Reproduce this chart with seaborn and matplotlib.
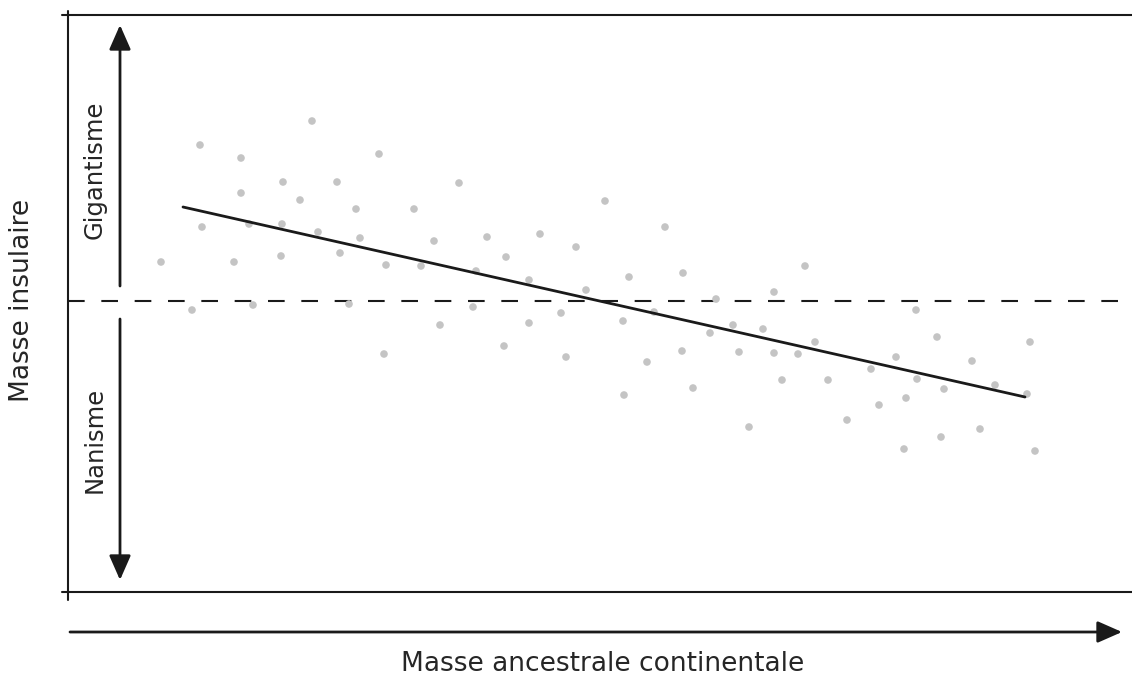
import pandas as pd
import matplotlib.pyplot as plt
import seaborn as sns

# continental ancestral mass (x) vs insular mass (y), arbitrary units
mass_continent = [93, 124, 132, 134, 166, 173, 173, 181, 185, 213,
                  214, 215, 232, 244, 250, 269, 272, 281, 288, 292,
                  311, 316, 318, 346, 353, 366, 372, 391, 405, 408,
                  419, 436, 438, 461, 461, 472, 493, 498, 508, 518,
                  537, 555, 556, 561, 579, 586, 597, 614, 615, 625,
                  642, 648, 665, 671, 681, 695, 706, 706, 714, 730,
                  737, 747, 760, 779, 803, 811, 828, 836, 838, 848,
                  849, 869, 873, 876, 904, 912, 927, 959, 962, 967]
mass_island = [330, 282, 447, 365, 330, 434, 399, 368, 287, 336,
               368, 410, 392, 471, 360, 410, 339, 288, 383, 354,
               438, 238, 327, 383, 326, 351, 267, 409, 285, 321,
               355, 246, 335, 312, 269, 358, 279, 235, 345, 302,
               391, 271, 197, 315, 230, 280, 365, 241, 319, 204,
               259, 293, 267, 240, 165, 263, 300, 239, 212, 238,
               326, 250, 212, 172, 223, 187, 235, 143, 194, 282,
               213, 255, 155, 203, 231, 163, 207, 198, 250, 141]

trend_x = [115, 957]
trend_y = [385, 195]
no_change_level = 291

df = pd.DataFrame({"continent": mass_continent, "island": mass_island})
trend = pd.DataFrame({"x": trend_x, "y": trend_y})

sns.set_style("white")
plt.rcParams["font.family"] = ["DejaVu Sans"]

fig = plt.figure(figsize=(11.32, 6.82), dpi=100)
ax = fig.add_axes([68 / 1132, 1 - 592 / 682, 1 - 68 / 1132, (592 - 15) / 682])

sns.scatterplot(data=df, x="continent", y="island", ax=ax, s=30,
                color="#c4c4c4", edgecolor="none", zorder=3)
sns.lineplot(data=trend, x="x", y="y", ax=ax, color="#1a1a1a", lw=2, zorder=4)
ax.axhline(no_change_level, color="#1a1a1a", lw=1.5, ls=(0, (8, 8)), zorder=2)

ax.set_xlim(0, 1064)
ax.set_ylim(0, 577)
ax.set_xticks([])
ax.set_yticks([])
ax.set_xlabel("")
ax.set_ylabel("")
for sp in ax.spines.values():
    sp.set_visible(False)

# hand drawn frame with small overhangs
box = dict(color="#1a1a1a", lw=1.5, clip_on=False, transform=ax.transAxes)
ax.plot([-6 / 1064, 1], [1, 1], **box)
ax.plot([-6 / 1064, 1], [0, 0], **box)
ax.plot([0, 0], [-8 / 577, 1 + 4 / 577], **box)

# vertical double arrow, broken at the dashed line
head = dict(arrowstyle="-|>,head_length=0.75,head_width=0.33", lw=2,
            color="#1a1a1a", mutation_scale=20, shrinkA=0, shrinkB=0)
ax.annotate("", xy=(52, 567), xytext=(52, 306), arrowprops=head)
ax.annotate("", xy=(52, 12), xytext=(52, 273), arrowprops=head)
ax.text(27, 422, "Gigantisme", rotation=90, ha="center", va="center", fontsize=17.5)
ax.text(27, 152, "Nanisme", rotation=90, ha="center", va="center", fontsize=17.5)

# horizontal arrow below the plot
ax.annotate("", xy=(1122, 50), xytext=(70, 50), xycoords="figure pixels",
            textcoords="figure pixels", arrowprops=head)

fig.text(22 / 1132, 1 - 300 / 682, "Masse insulaire", rotation=90,
         ha="center", va="center", fontsize=19)
fig.text(603 / 1132, 1 - 664 / 682, "Masse ancestrale continentale",
         ha="center", va="center", fontsize=19)

fig.savefig("out.png", dpi=100)
